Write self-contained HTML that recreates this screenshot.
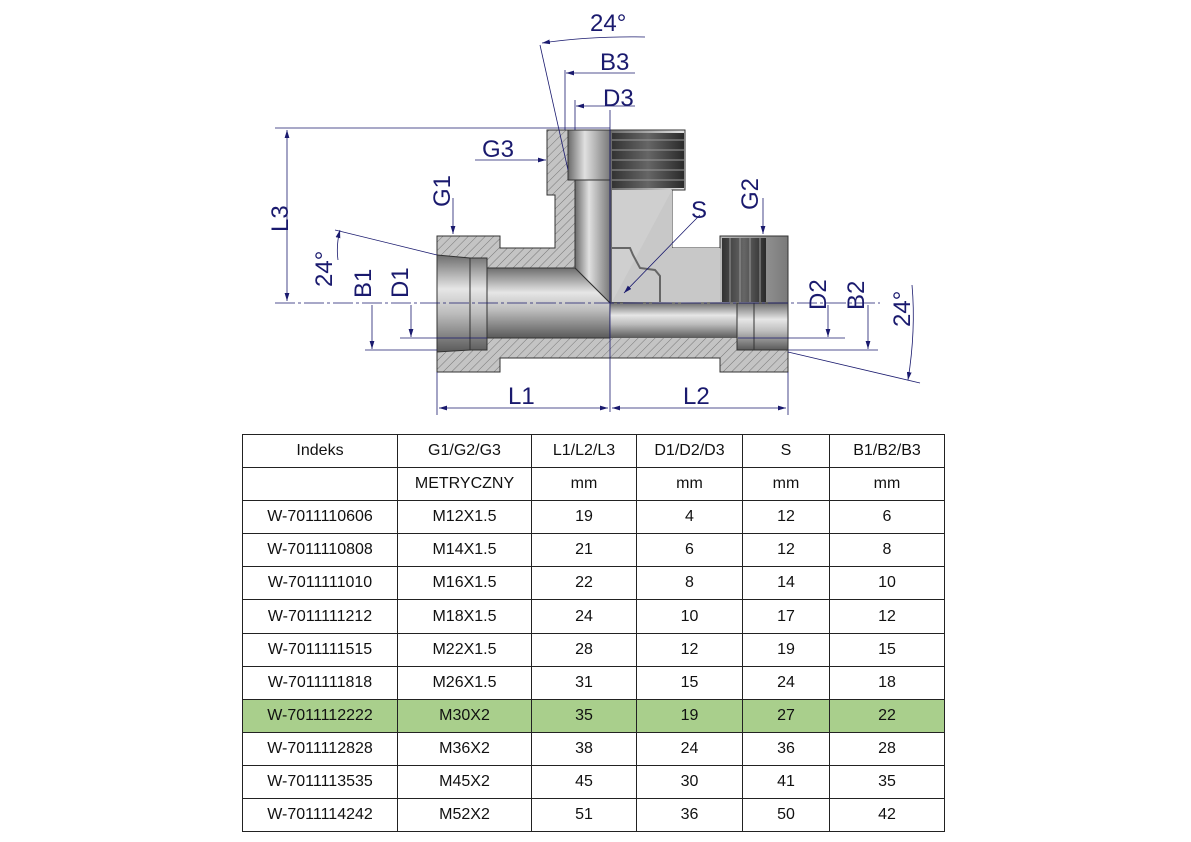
<!DOCTYPE html>
<html><head><meta charset="utf-8"><style>
body{margin:0;background:#fff;width:1191px;height:842px;overflow:hidden;font-family:"Liberation Sans",Arial,sans-serif}
svg{position:absolute;left:0;top:0}
table{position:absolute;left:242px;top:434px;border-collapse:collapse;font-size:16px;color:#111}
td{border:1.5px solid #222;height:32.1px;padding:0;text-align:center}
tr.g td{background:#a9cf8c}
</style></head><body>
<svg width="1191" height="430" viewBox="0 0 1191 430" font-family="Liberation Sans, Arial, sans-serif">
<defs>
<pattern id="h" width="6" height="6" patternUnits="userSpaceOnUse" patternTransform="rotate(45)">
<rect width="6" height="6" fill="#c4c4c4"/><line x1="0" y1="0" x2="0" y2="6" stroke="#777" stroke-width="1"/></pattern>
<linearGradient id="pv" x1="0" y1="0" x2="0" y2="1"><stop offset="0" stop-color="#6e6e6e"/><stop offset=".35" stop-color="#e6e6e6"/><stop offset=".6" stop-color="#bdbdbd"/><stop offset="1" stop-color="#5a5a5a"/></linearGradient>
<linearGradient id="ph" x1="0" y1="0" x2="1" y2="0"><stop offset="0" stop-color="#6a6a6a"/><stop offset=".4" stop-color="#e0e0e0"/><stop offset="1" stop-color="#7a7a7a"/></linearGradient>
<linearGradient id="th" x1="0" y1="0" x2="1" y2="0"><stop offset="0" stop-color="#333"/><stop offset=".5" stop-color="#666"/><stop offset="1" stop-color="#2a2a2a"/></linearGradient>
<marker id="a" viewBox="0 0 10 6" refX="10" refY="3" markerWidth="10" markerHeight="6" orient="auto-start-reverse"><path d="M0,0L10,3L0,6z" fill="#1a1a6e"/></marker>
</defs>
<path d="M437,236 L500,236 L500,248 L555,248 L555,195 L547,195 L547,130 L610,130 L610,303 L437,303Z" fill="url(#h)" stroke="#333"/>
<path d="M437,303 L788,303 L788,372 L720,372 L720,358 L500,358 L500,372 L437,372Z" fill="url(#h)" stroke="#333"/>
<path d="M610,130 L685,130 L685,190 L672,190 L672,248 L720,248 L720,236 L788,236 L788,303 L610,303Z" fill="url(#ph)" stroke="#333"/>
<rect x="612" y="133" width="72" height="55" fill="url(#th)"/>
<g stroke="#999" stroke-width="1">
<line x1="612" y1="140" x2="684" y2="140"/><line x1="612" y1="150" x2="684" y2="150"/><line x1="612" y1="160" x2="684" y2="160"/><line x1="612" y1="170" x2="684" y2="170"/><line x1="612" y1="180" x2="684" y2="180"/></g>
<rect x="722" y="238" width="44" height="64" fill="url(#th)"/>
<g stroke="#999"><line x1="730" y1="238" x2="730" y2="302"/><line x1="740" y1="238" x2="740" y2="302"/><line x1="750" y1="238" x2="750" y2="302"/><line x1="760" y1="238" x2="760" y2="302"/></g>
<rect x="612" y="190" width="60" height="112" fill="#cfcfcf"/>
<path d="M672,190 L672,248 L720,248 L720,302 L612,302" fill="#c8c8c8" stroke="none"/>
<rect x="568" y="130" width="42" height="50" fill="url(#ph)" stroke="#333"/>
<path d="M575,180 L610,180 L610,303 L575,268Z" fill="url(#ph)" stroke="#333"/>
<path d="M487,268 L575,268 L610,303 L610,338 L487,338Z" fill="url(#pv)" stroke="#333"/>
<rect x="610" y="303" width="128" height="35" fill="url(#pv)"/>
<path d="M437,255 L470,258 L487,258 L487,350 L470,350 L437,352Z" fill="url(#pv)" stroke="#333"/>
<rect x="737" y="303" width="51" height="47" fill="url(#pv)" stroke="#333"/>
<line x1="754" y1="303" x2="754" y2="350" stroke="#333"/>
<line x1="470" y1="258" x2="470" y2="350" stroke="#333"/>
<path d="M612,248 L630,248 L633,255 L640,268 L655,270 L660,276 L660,302" fill="none" stroke="#666" stroke-width="2"/>
<g stroke="#1a1a6e" stroke-width="0.8" fill="none">
<line x1="275" y1="128" x2="610" y2="128"/><line x1="275" y1="303" x2="880" y2="303" stroke-dasharray="20 3 3 3"/>
<line x1="610" y1="110" x2="610" y2="412"/>
<line x1="287" y1="130" x2="287" y2="301" marker-start="url(#a)" marker-end="url(#a)"/>
<line x1="437" y1="372" x2="437" y2="415"/><line x1="788" y1="372" x2="788" y2="415"/>
<line x1="439" y1="408" x2="608" y2="408" marker-start="url(#a)" marker-end="url(#a)"/>
<line x1="612" y1="408" x2="786" y2="408" marker-start="url(#a)" marker-end="url(#a)"/>
<line x1="365" y1="350" x2="437" y2="350"/><line x1="400" y1="338" x2="487" y2="338"/>
<line x1="788" y1="350" x2="878" y2="350"/><line x1="738" y1="338" x2="845" y2="338"/>
<line x1="372" y1="305" x2="372" y2="349" marker-end="url(#a)"/>
<line x1="411" y1="305" x2="411" y2="337" marker-end="url(#a)"/>
<line x1="828" y1="305" x2="828" y2="337" marker-end="url(#a)"/>
<line x1="868" y1="305" x2="868" y2="349" marker-end="url(#a)"/>
<line x1="453" y1="198" x2="453" y2="234" marker-end="url(#a)"/>
<line x1="763" y1="198" x2="763" y2="234" marker-end="url(#a)"/>
<line x1="475" y1="160" x2="546" y2="160" marker-end="url(#a)"/>
<line x1="565" y1="70" x2="565" y2="130"/><line x1="575" y1="100" x2="575" y2="130"/>
<line x1="635" y1="73" x2="566" y2="73" marker-end="url(#a)"/>
<line x1="635" y1="106" x2="576" y2="106" marker-end="url(#a)"/>
<line x1="540" y1="45" x2="568" y2="170"/>
<path d="M645,37 Q590,36 542,43" marker-end="url(#a)"/>
<line x1="335" y1="230" x2="437" y2="255"/>
<path d="M338,260 Q336,245 340,230" marker-end="url(#a)"/>
<line x1="788" y1="352" x2="920" y2="383"/>
<path d="M912,285 Q916,330 908,380" marker-end="url(#a)"/>
<path d="M700,215 L690,225 L624,293" marker-end="url(#a)"/>
</g>
<g fill="#1a1a6e" font-size="24">
<text x="590" y="31">24°</text><text x="600" y="70">B3</text><text x="603" y="106">D3</text>
<text x="482" y="157">G3</text><text x="691" y="218">S</text>
<text x="508" y="404">L1</text><text x="683" y="404">L2</text>
<text transform="translate(288,232) rotate(-90)">L3</text>
<text transform="translate(450,207) rotate(-90)">G1</text>
<text transform="translate(758,210) rotate(-90)">G2</text>
<text transform="translate(332,287) rotate(-90)">24°</text>
<text transform="translate(371,298) rotate(-90)">B1</text>
<text transform="translate(408,298) rotate(-90)">D1</text>
<text transform="translate(826,310) rotate(-90)">D2</text>
<text transform="translate(864,310) rotate(-90)">B2</text>
<text transform="translate(910,327) rotate(-90)">24°</text>
</g>
</svg>
<table>
<colgroup><col style="width:155px"><col style="width:134px"><col style="width:105px"><col style="width:106px"><col style="width:87px"><col style="width:115px"></colgroup>
<tr><td>Indeks</td><td>G1/G2/G3</td><td>L1/L2/L3</td><td>D1/D2/D3</td><td>S</td><td>B1/B2/B3</td></tr>
<tr><td></td><td>METRYCZNY</td><td>mm</td><td>mm</td><td>mm</td><td>mm</td></tr>
<tr><td>W-7011110606</td><td>M12X1.5</td><td>19</td><td>4</td><td>12</td><td>6</td></tr>
<tr><td>W-7011110808</td><td>M14X1.5</td><td>21</td><td>6</td><td>12</td><td>8</td></tr>
<tr><td>W-7011111010</td><td>M16X1.5</td><td>22</td><td>8</td><td>14</td><td>10</td></tr>
<tr><td>W-7011111212</td><td>M18X1.5</td><td>24</td><td>10</td><td>17</td><td>12</td></tr>
<tr><td>W-7011111515</td><td>M22X1.5</td><td>28</td><td>12</td><td>19</td><td>15</td></tr>
<tr><td>W-7011111818</td><td>M26X1.5</td><td>31</td><td>15</td><td>24</td><td>18</td></tr>
<tr class="g"><td>W-7011112222</td><td>M30X2</td><td>35</td><td>19</td><td>27</td><td>22</td></tr>
<tr><td>W-7011112828</td><td>M36X2</td><td>38</td><td>24</td><td>36</td><td>28</td></tr>
<tr><td>W-7011113535</td><td>M45X2</td><td>45</td><td>30</td><td>41</td><td>35</td></tr>
<tr><td>W-7011114242</td><td>M52X2</td><td>51</td><td>36</td><td>50</td><td>42</td></tr>
</table>
</body></html>
